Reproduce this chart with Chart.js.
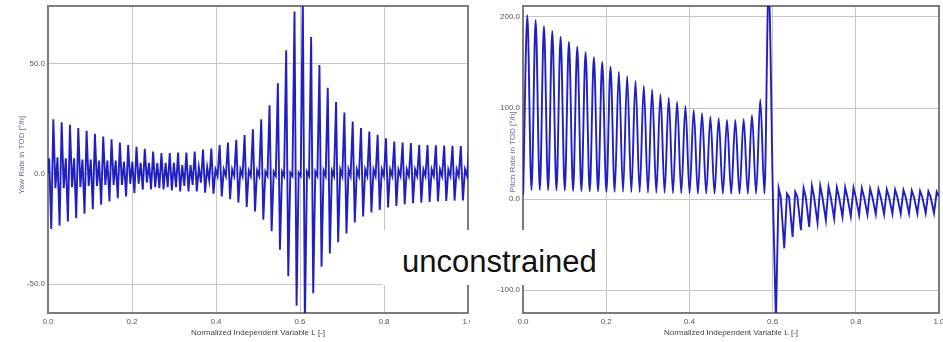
<!DOCTYPE html>
<html>
<head>
<meta charset="utf-8">
<script src="https://cdn.jsdelivr.net/npm/chart.js@4.4.1/dist/chart.umd.min.js"></script>
<style>
  html, body { margin: 0; padding: 0; background: #fff; }
  #wrap { position: relative; width: 943px; height: 342px; overflow: hidden; }
  canvas { position: absolute; top: 0; }
  #yaw { left: 0; }
  #pitch { left: 470px; }
  .note {
    position: absolute; left: 382px; top: 230px; width: 222px; height: 55px;
    background: #fff; color: #111; box-sizing: border-box; padding: 4px 0 0 20px;
    font-family: "Liberation Sans", Arial, sans-serif; font-size: 31px; line-height: 55px;
  }
</style>
</head>
<body>
<div id="wrap">
  <canvas id="yaw" width="470" height="342"></canvas>
  <canvas id="pitch" width="473" height="342"></canvas>
  <div class="note">unconstrained</div>
</div>
<script>
const xTicks = [0, 0.2, 0.4, 0.6, 0.8, 1.0];
const yawTicks = [-50, 0, 50];
const pitchTicks = [-100, 0, 100, 200];

// Yaw rate, one entry per oscillation cycle (cycles start at 0.0028, length 0.0198)
// lead = value at cycle start, pre = quarter step later, peak = crest, post = after crest
const yawLead = [7, 7.5, 7, 7, 6.5, 6.5, 6, 6, 6, 5.5, 5.5, 5,
  5, 5, 5, 5, 4, 4, 3, 3,
  2, 2, 2, 2, 1.5, 1.5, 1, 1, 1, 0.5, 0.5, 1, 1, 1.5, 1.5, 2,
  2, 2, 2, 2, 2, 2, 2, 2, 2, 2, 2, 2, 2, 2, 2];
const yawPre = [-25, -23.5, -21.6, -20.1, -18.1, -16, -14, -12.5, -11, -10.2, -8.7, -7.2,
  -7, -6.5, -6, -6, -5.5, -5, -4, -3,
  -1, -1, -1, -1, -1, -1, -1, -1, -1, -1, -1, -1, -1, -1, -1, -1,
  -1, -1, -1, -1, -1, -1, -1, -1, -1, -1, -1, -1, -1, -1, -1];
const yawPeak = [24.7, 23.4, 22.2, 20.7, 19.5, 18.1, 16.9, 15.7, 14.2, 13.1, 12.3, 11.3,
  10.1, 9.4, 9.4, 9.6, 9.6, 10.1, 11, 11.5,
  13.1, 14.2, 15.4, 17.6, 20.2, 24.7, 31, 41, 56, 73.5, 80, 62, 49.3, 39, 32.5, 27.8,
  23.7, 20.7, 19.2, 17.7, 16.1, 14.6, 14.2, 13.9, 13.1, 13, 12.9, 12.8, 12.7, 12.6, 12.5];
const yawPost = [-6.5, -6.5, -6, -6, -5.5, -5.5, -5, -5, -5, -4.5, -4.5, -4,
  -6, -7, -7.5, -8, -8, -8, -8.5, -9,
  -10.2, -11.5, -13, -15, -17, -20.8, -26, -34.4, -46.4, -59.7, -68, -54, -42, -36, -31, -27,
  -22, -19.3, -17.5, -16.3, -15.2, -14.5, -13.8, -13.3, -13, -12.7, -12.5, -12.3, -12.1, -12, -12];

// Pitch rate before the jump: dips at 0.0004 + 0.02 i, crests at 0.0104 + 0.02 i
const pitchDip = [5, 10, 10, 9.9, 9.5, 9.5, 9, 9, 8.5, 8.5, 8, 8, 8, 7.5, 7.5, 7, 7, 7,
  6.5, 6.5, 6.5, 6, 6, 6, 6, 6, 6, 6, 6, 6, 10];
const pitchCrest = [202, 196.7, 190, 184.6, 178.4, 172.9, 167.4, 161.2, 155.7, 150.5,
  145.4, 139.9, 135.2, 130, 124.5, 120.5, 115.4, 111.3, 106.9, 102.2,
  97.8, 94.2, 90.4, 88.7, 86.8, 86.8, 87.9, 92.3, 109.5, 235];
// after the jump: lows at 0.608 + 0.02 i, then high and shoulder
const pitchLow = [-135, -54, -41.4, -34.1, -30.4, -26, -23.1, -21.2, -19.4, -18.7,
  -17.6, -17, -16.5, -16.5, -16, -16, -15.8, -15.8, -15.5, -15.5];
const pitchHigh = [12, 6, 8, 12, 14.6, 14.6, 13.5, 12.8, 12.8, 12.5,
  12, 11.5, 11, 10.6, 10.5, 10, 9.5, 9, 8.5, 8];
const pitchShoulder = [2.5, 2.6, 3, 3, 3, 3, 3, 3, 3, 3, 3, 3, 3, 3, 3, 3, 3, 3, 3, 3];

function cycles(start, period, parts) {
  const pts = [];
  parts.forEach(([off, vals]) => {
    vals.forEach((v, i) => pts.push({ x: start + period * i + off, y: v }));
  });
  return pts.sort((a, b) => a.x - b.x);
}

const yawData = [{ x: 0, y: 0 }].concat(cycles(0.0028, 0.0198, [
  [0, yawLead], [0.00495, yawPre], [0.0099, yawPeak], [0.01485, yawPost]
]));
const pitchBefore = cycles(0.0004, 0.02, [[0, pitchDip], [0.01, pitchCrest]]);
const pitchAfter = [pitchBefore[pitchBefore.length - 1]].concat(
  cycles(0.608, 0.02, [[0, pitchLow], [0.0065, pitchHigh], [0.0115, pitchShoulder]]));

const frame = {
  id: 'frame',
  beforeDatasetsDraw(chart) {
    const { ctx, chartArea: a } = chart;
    ctx.save();
    ctx.strokeStyle = '#7c7c7c';
    ctx.lineWidth = 2;
    ctx.strokeRect(a.left, a.top, a.right - a.left, a.bottom - a.top);
    ctx.restore();
  }
};

// vertical axis caption, placed where the original has it
const sideTitle = {
  id: 'sideTitle',
  afterDraw(chart, args, opts) {
    const ctx = chart.ctx;
    ctx.save();
    ctx.translate(opts.x, opts.y);
    ctx.rotate(-Math.PI / 2);
    ctx.font = '8px "Liberation Sans"';
    ctx.fillStyle = '#6a6ab4';
    ctx.textAlign = 'center';
    ctx.textBaseline = 'middle';
    ctx.fillText(opts.text, 0, 0);
    ctx.restore();
  }
};

const tickFont = { family: 'Liberation Sans', size: 8 };

function line(data, smooth) {
  return {
    data: data,
    borderColor: '#2020c2',
    borderWidth: 1.9,
    pointRadius: 0,
    tension: 0,
    cubicInterpolationMode: smooth ? 'monotone' : 'default'
  };
}

function makeChart(id, datasets, yMin, yMax, yTickVals, title, yWidth, padRight) {
  return new Chart(document.getElementById(id), {
    type: 'line',
    data: { datasets: datasets },
    plugins: [frame, sideTitle],
    options: {
      responsive: false,
      animation: false,
      devicePixelRatio: 1,
      layout: { padding: { top: 6, right: padRight, bottom: 0, left: 0 } },
      plugins: { legend: { display: false }, tooltip: { enabled: false }, sideTitle: title },
      scales: {
        x: {
          type: 'linear', min: 0, max: 1,
          afterBuildTicks: s => { s.ticks = xTicks.map(v => ({ value: v })); },
          afterFit: s => { s.height = 29; s.paddingLeft = 0; s.paddingRight = 0; },
          grid: { color: '#c6c6c6', lineWidth: 1, drawTicks: false },
          border: { display: false },
          ticks: { padding: 4, color: '#555', font: tickFont, maxRotation: 0, autoSkip: false,
            callback: v => Number(v).toFixed(1) },
          title: { display: true, text: 'Normalized Independent Variable L [-]', color: '#444',
            font: tickFont, padding: { top: 0, bottom: 4 } }
        },
        y: {
          min: yMin, max: yMax,
          afterBuildTicks: s => { s.ticks = yTickVals.map(v => ({ value: v })); },
          afterFit: s => { s.width = yWidth; s.paddingTop = 0; s.paddingBottom = 0; },
          grid: { color: '#c6c6c6', lineWidth: 1, drawTicks: false },
          border: { display: false },
          ticks: { padding: 3, color: '#555', font: tickFont,
            callback: v => Number(v).toFixed(1) }
        }
      }
    }
  });
}

makeChart('yaw', [line(yawData, false)], -63, 76, yawTicks,
  { text: 'Yaw Rate in TOD [°/h]', x: 22, y: 155 }, 48, 2);
makeChart('pitch', [line(pitchBefore, true), line(pitchAfter, false)], -125, 212, pitchTicks,
  { text: 'Pitch Rate in TOD [°/h]', x: 43, y: 152 }, 53, 4);
</script>
</body>
</html>
